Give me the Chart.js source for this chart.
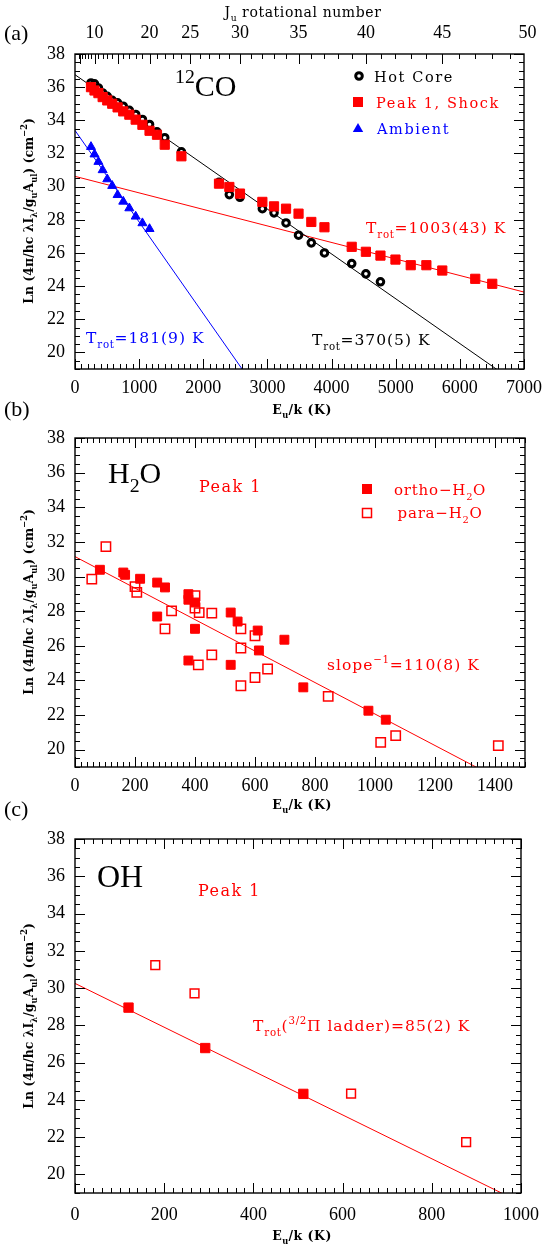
<!DOCTYPE html>
<html><head><meta charset="utf-8">
<script src="https://cdn.jsdelivr.net/npm/chart.js@4.4.1/dist/chart.umd.min.js"></script>
<style>
html,body{margin:0;padding:0;background:#fff}
body{position:relative;width:550px;height:1247px;overflow:hidden}
canvas{position:absolute;left:0}
</style></head><body>
<canvas id="cA" width="550" height="422" style="top:0px"></canvas>
<canvas id="cB" width="550" height="420" style="top:395px"></canvas>
<canvas id="cC" width="550" height="447" style="top:800px"></canvas>
<script>
// ---------------- data ----------------
// (a) 12CO
const coHotE   = [249,304,365,431,503,580,664,752,847,946,1051,1162,1278,1399,1659,2245,2406,2572,2921,3103,3290,3485,3684,3889,4314,4535,4762];
const coHotLn  = [36.25,36.2,35.95,35.65,35.45,35.2,35.05,34.85,34.6,34.35,34.05,33.75,33.3,32.95,32.1,30.26,29.52,29.36,28.67,28.42,27.81,27.07,26.61,26.0,25.36,24.74,24.26];
const coShockE = [249,304,365,431,503,580,664,752,847,946,1051,1162,1278,1399,1659,2245,2406,2572,2921,3103,3290,3485,3684,3889,4314,4535,4762,4996,5234,5478,5726,6240,6505];
const coShockLn= [36.0,35.8,35.64,35.4,35.2,35.0,34.78,34.54,34.34,34.04,33.73,33.37,33.13,32.53,31.83,30.18,29.98,29.58,29.08,28.81,28.67,28.37,27.87,27.55,26.37,26.07,25.84,25.6,25.26,25.26,24.94,24.44,24.14];
const coAmbE   = [249,304,365,431,503,580,664,752,847,946,1051,1162];
const coAmbLn  = [32.4,31.95,31.5,31.0,30.45,30.05,29.5,29.1,28.7,28.2,27.8,27.45];
// rotational-diagram fits: intercept (Ln at E=0) and T_rot (K)
const coHotFit   = [36.75, 370];
const coShockFit = [30.62, 1003];
const coAmbFit   = [33.39, 181];
const CO_B = 2.766;                       // K, E_u/k = B J(J+1)
const coJLabels = [10,20,25,30,35,40,45,50];
const coXTicks  = [0,1000,2000,3000,4000,5000,6000,7000];
// (b) H2O
const h2oOrthoE  = [83,161,167,217,274,300,274,378,378,400,400,378,519,542,519,609,613,698,761,978,1036];
const h2oOrthoLn = [30.39,30.23,30.1,29.87,29.65,29.37,27.69,28.98,28.66,28.5,26.98,25.15,27.92,27.4,24.9,26.88,25.73,26.35,23.6,22.25,21.73];
const h2oParaE   = [56,103,200,206,322,300,400,400,414,456,456,411,553,553,553,600,600,642,844,1019,1069,1411];
const h2oParaLn  = [29.85,31.73,29.42,29.08,28.02,26.98,28.89,28.18,27.92,27.89,25.48,24.9,26.98,25.87,23.69,26.58,24.17,24.66,23.08,20.42,20.81,20.23];
const h2oFit = [31.15, 110];
const h2oXTicks = [0,200,400,600,800,1000,1200,1400];
// (c) OH
const ohFilledE  = [120,292,512];
const ohFilledLn = [28.95,26.78,24.32];
const ohOpenE    = [180,268,619,877];
const ohOpenLn   = [31.23,29.72,24.33,21.73];
const ohFit = [30.25, 85];
const ohXTicks = [0,200,400,600,800,1000];
const yTicks = [20,22,24,26,28,30,32,34,36,38];

// ---------------- helpers ----------------
const TICKF = 'Liberation Serif';
const ANN = 'DejaVu Serif';
const RED = '#ff0000', BLUE = '#0000ff';
const pts = (xs, ys) => xs.map((x, i) => ({x, y: ys[i]}));
const fitLine = (f, xmax) => [{x: 0, y: f[0]}, {x: xmax, y: f[0] - xmax / f[1]}];

function rich(ctx, x, y, parts, o) {
  const size = o.size, fam = o.family || ANN, ls = o.ls || 0, wt = o.weight || 'normal';
  ctx.save();
  ctx.fillStyle = o.color || '#000';
  ctx.textBaseline = 'alphabetic';
  ctx.textAlign = 'left';
  let w = 0;
  const items = parts.map(([t, m]) => {
    const fs = m === 'n' ? size : size * 0.66;
    ctx.font = `${wt} ${fs}px "${fam}"`;
    ctx.letterSpacing = (ls * fs / size) + 'px';
    const mw = ctx.measureText(t).width;
    w += mw;
    return {t, m, fs, mw};
  });
  if (o.rot) { ctx.translate(x, y); ctx.rotate(-Math.PI / 2); x = 0; y = 0; }
  let cx = o.align === 'center' ? x - w / 2 : x;
  for (const it of items) {
    ctx.font = `${wt} ${it.fs}px "${fam}"`;
    ctx.letterSpacing = (ls * it.fs / size) + 'px';
    const dy = it.m === 'sub' ? size * 0.3 : it.m === 'sup' ? -size * 0.45 : 0;
    ctx.fillText(it.t, cx, y + dy);
    cx += it.mw;
  }
  ctx.restore();
}

function marker(ctx, m) {
  ctx.save();
  ctx.fillStyle = m.color; ctx.strokeStyle = m.color;
  if (m.type === 'circ') {
    ctx.beginPath(); ctx.arc(m.x, m.y, 3.3, 0, Math.PI * 2);
    ctx.fillStyle = '#fff'; ctx.fill(); ctx.lineWidth = 3; ctx.stroke();
  } else if (m.type === 'sq') {
    ctx.fillRect(m.x - 5, m.y - 5, 10, 10);
  } else if (m.type === 'osq') {
    ctx.lineWidth = 1.5; ctx.strokeRect(m.x - 4.5, m.y - 4.5, 9, 9);
  } else if (m.type === 'tri') {
    ctx.beginPath(); ctx.moveTo(m.x, m.y - 5); ctx.lineTo(m.x + 5.2, m.y + 4); ctx.lineTo(m.x - 5.2, m.y + 4); ctx.closePath(); ctx.fill();
  }
  ctx.restore();
}

const axisFrame = {
  id: 'axisFrame',
  afterDatasetsDraw(chart, args, o) {
    const ctx = chart.ctx, a = chart.chartArea, xs = chart.scales.x, ys = chart.scales.y;
    ctx.save();
    ctx.strokeStyle = '#000';
    ctx.lineWidth = 1;
    ctx.beginPath();
    const seg = (x1, y1, x2, y2) => { ctx.moveTo(x1, y1); ctx.lineTo(x2, y2); };
    const nx = Math.round((xs.max - xs.min) / o.xMinor);
    for (let i = 0; i <= nx; i++) {
      const v = xs.min + i * o.xMinor;
      const px = Math.round(xs.getPixelForValue(v)) + 0.5;
      const major = Math.abs(v / o.xMajor - Math.round(v / o.xMajor)) < 1e-6;
      const L = major ? 10 : 5;
      seg(px, a.bottom, px, a.bottom - L);
      if (!o.topJ) seg(px, a.top, px, a.top + L);
    }
    if (o.topJ) {
      const x2 = chart.scales.x2;
      for (let J = 4; J <= 50; J++) {
        const E = CO_B * J * (J + 1);
        if (E > x2.max + 1) break;
        const px = Math.round(x2.getPixelForValue(E)) + 0.5;
        seg(px, a.top, px, a.top + (J % 5 === 0 ? 10 : 5));
      }
    }
    const ny = Math.round((ys.max - ys.min) / 0.5);
    for (let i = 0; i <= ny; i++) {
      const v = ys.min + i * 0.5;
      const py = Math.round(ys.getPixelForValue(v)) + 0.5;
      const L = (Math.abs(v % 2) < 1e-6) ? 10 : 5;
      seg(a.left, py, a.left + L, py);
      seg(a.right, py, a.right - L, py);
    }
    ctx.stroke();
    ctx.lineWidth = 1.4;
    ctx.strokeRect(a.left, a.top, a.right - a.left, a.bottom - a.top);
    ctx.restore();
  }
};

const notes = {
  id: 'notes',
  afterDraw(chart, args, o) {
    const ctx = chart.ctx;
    (o.markers || []).forEach(m => marker(ctx, m));
    (o.items || []).forEach(it => rich(ctx, it.x, it.y, it.parts, it));
  }
};
Chart.register(axisFrame, notes);

function yAxis() {
  return {
    type: 'linear', position: 'left', min: 19, max: 38,
    grid: {display: false, drawTicks: false}, border: {display: false},
    afterBuildTicks: s => { s.ticks = yTicks.map(v => ({value: v})); },
    afterFit: s => { s.width = 75; },
    ticks: {font: {family: TICKF, size: 18}, color: '#000', padding: 10, callback: v => String(v)}
  };
}
function xAxis(max, ticks, h, pad) {
  return {
    type: 'linear', position: 'bottom', min: 0, max: max,
    grid: {display: false, drawTicks: false}, border: {display: false},
    afterBuildTicks: s => { s.ticks = ticks.map(v => ({value: v})); },
    afterFit: s => { s.height = h; },
    ticks: {font: {family: TICKF, size: 18}, color: '#000', padding: pad, maxRotation: 0, autoSkip: false, callback: v => String(v)}
  };
}
const yTitleParts = [['Ln (4π/hc λI','n'],['λ','sub'],['/g','n'],['u','sub'],['A','n'],['ul','sub'],[') (cm','n'],['−2','sup'],[')','n']];
const xTitleParts = [['E','n'],['u','sub'],['/k (K)','n']];
const base = {responsive: false, animation: false, devicePixelRatio: 1, events: []};

// ---------------- (a) 12CO ----------------
new Chart(document.getElementById('cA'), {
  type: 'scatter',
  data: {datasets: [
    {data: fitLine(coHotFit, 7000), type: 'line', borderColor: '#000', borderWidth: 1, pointRadius: 0, order: 10},
    {data: fitLine(coShockFit, 7000), type: 'line', borderColor: RED, borderWidth: 1, pointRadius: 0, order: 10},
    {data: fitLine(coAmbFit, 7000), type: 'line', borderColor: BLUE, borderWidth: 1, pointRadius: 0, order: 10},
    {label: 'Hot Core', data: pts(coHotE, coHotLn), pointStyle: 'circle', pointRadius: 3.3, borderWidth: 3, borderColor: '#000', backgroundColor: '#fff', order: 3},
    {label: 'Peak 1, Shock', data: pts(coShockE, coShockLn), pointStyle: 'rect', pointRadius: 6.5, borderWidth: 1, borderColor: RED, backgroundColor: RED, order: 2},
    {label: 'Ambient', data: pts(coAmbE, coAmbLn), pointStyle: 'triangle', pointRadius: 5.2, borderWidth: 1, borderColor: BLUE, backgroundColor: BLUE, order: 1}
  ]},
  options: Object.assign({}, base, {
    layout: {padding: {left: 0, right: 23, top: 0, bottom: 0}},
    scales: {
      x: xAxis(7000, coXTicks, 53, 8),
      x2: {type: 'linear', position: 'top', min: 0, max: 7000,
        grid: {display: false, drawTicks: false}, border: {display: false},
        afterBuildTicks: s => { s.ticks = coJLabels.map(J => ({value: CO_B * J * (J + 1)})); },
        afterFit: s => { s.height = 54; },
        ticks: {font: {family: TICKF, size: 18}, color: '#000', padding: 10, maxRotation: 0, autoSkip: false, callback: (v, i) => String(coJLabels[i])}},
      y: yAxis()
    },
    plugins: {
      legend: {display: false}, tooltip: {enabled: false},
      axisFrame: {xMinor: 100, xMajor: 1000, topJ: true},
      notes: {
        markers: [{type: 'circ', x: 359, y: 76, color: '#000'}, {type: 'sq', x: 358, y: 102, color: RED}, {type: 'tri', x: 358, y: 128, color: BLUE}],
        items: [
          {parts: [['(a)','n']], x: 4, y: 40, size: 22, family: TICKF},
          {parts: [['J','n'],['u','sub'],[' rotational number','n']], x: 303, y: 17, size: 14, align: 'center', ls: 0.6},
          {parts: [['12','sup'],['CO','n']], x: 175, y: 96, size: 30, family: TICKF},
          {parts: [['Hot Core','n']], x: 374, y: 82, size: 14.5, ls: 1.6},
          {parts: [['Peak 1, Shock','n']], x: 376, y: 108, size: 14.5, ls: 1.6, color: RED},
          {parts: [['Ambient','n']], x: 377, y: 134, size: 14.5, ls: 1.6, color: BLUE},
          {parts: [['T','n'],['rot','sub'],['=1003(43) K','n']], x: 366, y: 233, size: 15.5, ls: 1, color: RED},
          {parts: [['T','n'],['rot','sub'],['=181(9) K','n']], x: 86, y: 343, size: 15.5, ls: 1, color: BLUE},
          {parts: [['T','n'],['rot','sub'],['=370(5) K','n']], x: 312, y: 345, size: 15.5, ls: 1, color: '#000'},
          {parts: yTitleParts, x: 33, y: 211, size: 12.5, align: 'center', rot: true, weight: 'bold'},
          {parts: xTitleParts, x: 302, y: 414, size: 12.5, align: 'center', weight: 'bold', ls: 0.5}
        ]
      }
    }
  })
});

// ---------------- (b) H2O ----------------
new Chart(document.getElementById('cB'), {
  type: 'scatter',
  data: {datasets: [
    {data: fitLine(h2oFit, 1500), type: 'line', borderColor: RED, borderWidth: 1, pointRadius: 0, order: 10},
    {label: 'ortho-H2O', data: pts(h2oOrthoE, h2oOrthoLn), pointStyle: 'rect', pointRadius: 6.3, borderWidth: 1, borderColor: RED, backgroundColor: RED, order: 2},
    {label: 'para-H2O', data: pts(h2oParaE, h2oParaLn), pointStyle: 'rect', pointRadius: 6.6, borderWidth: 1.5, borderColor: RED, backgroundColor: 'rgba(0,0,0,0)', order: 1}
  ]},
  options: Object.assign({}, base, {
    layout: {padding: {left: 0, right: 25, top: 43, bottom: 0}},
    scales: {x: xAxis(1500, h2oXTicks, 48, 8), y: yAxis()},
    plugins: {
      legend: {display: false}, tooltip: {enabled: false},
      axisFrame: {xMinor: 20, xMajor: 200},
      notes: {
        markers: [{type: 'sq', x: 367, y: 94, color: RED}, {type: 'osq', x: 367, y: 118, color: RED}],
        items: [
          {parts: [['(b)','n']], x: 4, y: 21, size: 22, family: TICKF},
          {parts: [['H','n'],['2','sub'],['O','n']], x: 108, y: 88, size: 30, family: TICKF},
          {parts: [['Peak 1','n']], x: 199, y: 97, size: 16, ls: 1.5, color: RED},
          {parts: [['ortho−H','n'],['2','sub'],['O','n']], x: 440, y: 100, size: 15, ls: 0.8, color: RED, align: 'center'},
          {parts: [['para−H','n'],['2','sub'],['O','n']], x: 440, y: 123, size: 15, ls: 0.8, color: RED, align: 'center'},
          {parts: [['slope','n'],['−1','sup'],['=110(8) K','n']], x: 327, y: 275, size: 15.5, ls: 1, color: RED},
          {parts: yTitleParts, x: 33, y: 207, size: 12.5, align: 'center', rot: true, weight: 'bold'},
          {parts: xTitleParts, x: 302, y: 414, size: 12.5, align: 'center', weight: 'bold', ls: 0.5}
        ]
      }
    }
  })
});

// ---------------- (c) OH ----------------
new Chart(document.getElementById('cC'), {
  type: 'scatter',
  data: {datasets: [
    {data: fitLine(ohFit, 1000), type: 'line', borderColor: RED, borderWidth: 1, pointRadius: 0, order: 10},
    {label: 'OH fitted', data: pts(ohFilledE, ohFilledLn), pointStyle: 'rect', pointRadius: 6.6, borderWidth: 1, borderColor: RED, backgroundColor: RED, order: 2},
    {label: 'OH other', data: pts(ohOpenE, ohOpenLn), pointStyle: 'rect', pointRadius: 6.2, borderWidth: 1.5, borderColor: RED, backgroundColor: 'rgba(0,0,0,0)', order: 1}
  ]},
  options: Object.assign({}, base, {
    layout: {padding: {left: 0, right: 22, top: 39, bottom: 0}},
    scales: {x: xAxis(1000, ohXTicks, 54, 11), y: yAxis()},
    plugins: {
      legend: {display: false}, tooltip: {enabled: false},
      axisFrame: {xMinor: 20, xMajor: 200},
      notes: {
        items: [
          {parts: [['(c)','n']], x: 4, y: 16, size: 22, family: TICKF},
          {parts: [['OH','n']], x: 97, y: 87, size: 32, family: TICKF},
          {parts: [['Peak 1','n']], x: 198, y: 96, size: 16, ls: 1.5, color: RED},
          {parts: [['T','n'],['rot','sub'],['(','n'],['3/2','sup'],['Π ladder)=85(2) K','n']], x: 253, y: 231, size: 15.5, ls: 1, color: RED},
          {parts: yTitleParts, x: 33, y: 216, size: 12.5, align: 'center', rot: true, weight: 'bold'},
          {parts: xTitleParts, x: 302, y: 440, size: 12.5, align: 'center', weight: 'bold', ls: 0.5}
        ]
      }
    }
  })
});
</script>
</body></html>
